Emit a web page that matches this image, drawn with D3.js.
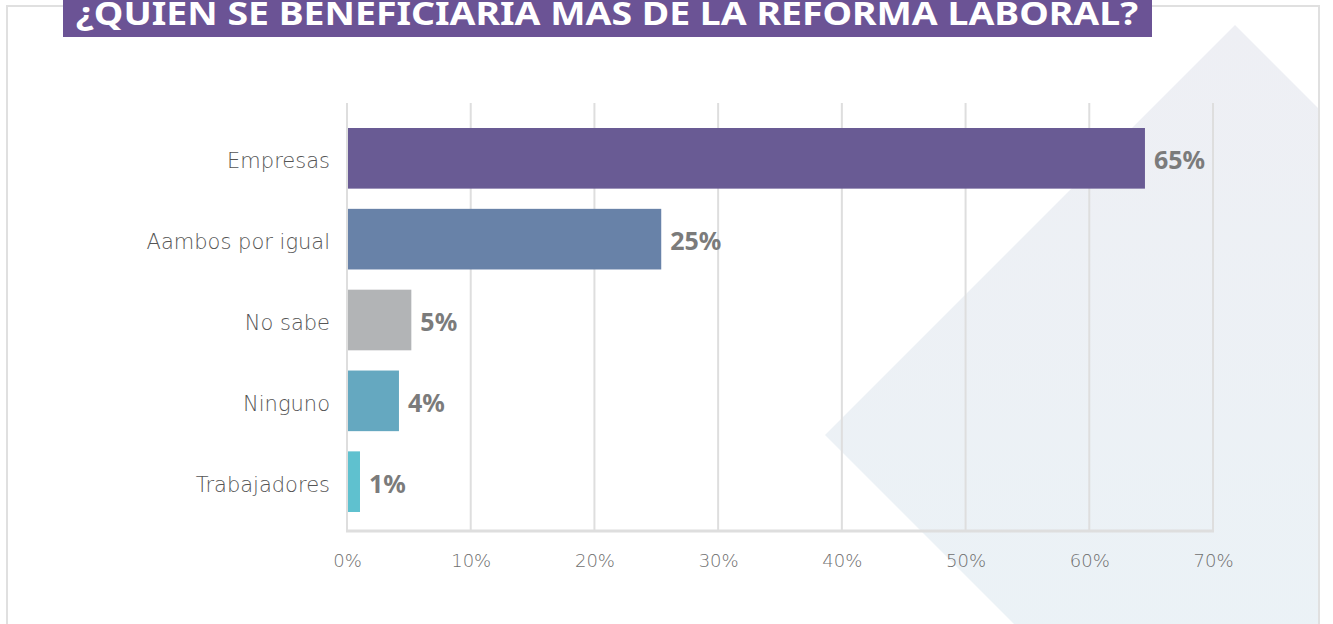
<!DOCTYPE html>
<html><head><meta charset="utf-8">
<script src="https://cdn.jsdelivr.net/npm/d3@7"></script>
<style>body{margin:0;background:#fff;overflow:hidden}svg{display:block}</style>
</head><body><svg id="c" width="1333" height="624"></svg>
<script>
const title = "¿QUIEN SE BENEFICIARIA MAS DE LA REFORMA LABORAL?";
const categories = ["Empresas","Aambos por igual","No sabe","Ninguno","Trabajadores"];
const values = [64.5, 25.4, 5.2, 4.2, 1.05];
const barColors = ["#695b94","#6882a8","#b2b4b6","#65a8c0","#5fc1cf"];
const ticks = [0,10,20,30,40,50,60,70];

const svg = d3.select("#c");
const lightFont = "'DejaVu Sans', sans-serif";
const boldFont = "'Noto Sans', 'Liberation Sans', sans-serif";

// background diamond
const defs = svg.append("defs");
const g1 = defs.append("linearGradient").attr("id","bg").attr("x1",0).attr("y1",0).attr("x2",0).attr("y2",1);
g1.append("stop").attr("offset","0%").attr("stop-color","#eeeff4");
g1.append("stop").attr("offset","100%").attr("stop-color","#eaf3f7");
defs.append("clipPath").attr("id","box").append("rect").attr("x",8).attr("y",7).attr("width",1310).attr("height",630);
const cx = 1235, cy = 435, r = 410;
svg.append("path").attr("clip-path","url(#box)")
  .attr("d",`M${cx-r},${cy}L${cx},${cy-r}L${cx+r},${cy}L${cx},${cy+r}Z`)
  .attr("fill","url(#bg)");

// outer border
svg.append("rect").attr("x",7).attr("y",6).attr("width",1312).attr("height",640)
  .attr("fill","none").attr("stroke","#e0e0e0").attr("stroke-width",2);

// title box
svg.append("rect").attr("x",63).attr("y",-5).attr("width",1089).attr("height",42).attr("fill","#6b5395");
svg.append("text").attr("x",76).attr("y",25).attr("fill","#fff")
  .attr("font-family",boldFont).attr("font-weight",700).attr("font-size",33)
  .attr("textLength",1062).attr("lengthAdjust","spacingAndGlyphs")
  .text(title);

const x = d3.scaleLinear().domain([0,70]).range([347,1213]);
const y = d3.scaleBand().domain(categories).range([128,512]).paddingInner(0.25).paddingOuter(0);

// gridlines
svg.append("g").selectAll("line").data(ticks).join("line")
  .attr("x1",d=>x(d)).attr("x2",d=>x(d)).attr("y1",103).attr("y2",531)
  .attr("stroke","#dedede").attr("stroke-width",2);
svg.append("line").attr("x1",x(0)-1).attr("x2",x(70)+1).attr("y1",531).attr("y2",531)
  .attr("stroke","#dedede").attr("stroke-width",3);

// x axis labels
const xa = svg.append("g").attr("transform","translate(0,567)")
  .call(d3.axisBottom(x).tickValues(ticks).tickFormat(d=>d+"%").tickSize(0).tickPadding(0));
xa.select(".domain").remove();
xa.selectAll("text").attr("font-family",lightFont).attr("font-weight",300).attr("font-size",18)
  .attr("fill","#6f6f6f").attr("dy","0");

// y axis labels
const ya = svg.append("g").attr("transform","translate(330,0)")
  .call(d3.axisLeft(y).tickSize(0).tickPadding(0));
ya.select(".domain").remove();
ya.selectAll("text").attr("font-family",lightFont).attr("font-weight",300).attr("font-size",21)
  .attr("fill","#555").attr("dy","0").attr("y",10);

// bars
const data = categories.map((c,i)=>({c, v: values[i], col: barColors[i]}));
svg.append("g").selectAll("rect").data(data).join("rect")
  .attr("x",x(0)+1).attr("y",d=>y(d.c)).attr("width",d=>x(d.v)-x(0)-1).attr("height",y.bandwidth())
  .attr("fill",d=>d.col);

svg.append("g").selectAll("text").data(data).join("text")
  .attr("x",d=>x(d.v)+9).attr("y",d=>y(d.c)+y.bandwidth()/2+11)
  .attr("font-family",boldFont).attr("font-weight",700).attr("font-size",25).attr("fill","#7b7b7b")
  .text(d=>Math.round(d.v)+"%");
</script></body></html>
